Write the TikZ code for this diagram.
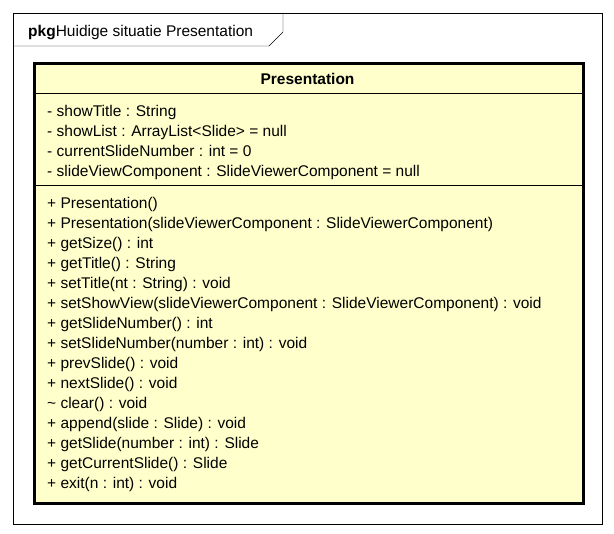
\documentclass[tikz,border=0pt]{standalone}
\usepackage{fontspec}
\setmainfont{Liberation Sans}
\usepackage{tikz}
\usetikzlibrary{positioning,calc}

\definecolor{classfill}{HTML}{FFFFCC}

\begin{document}
\begin{tikzpicture}[x=1pt,y=-1pt,
every node/.style={font=\fontsize{15.5}{18}\selectfont},
member/.style={anchor=base west,inner sep=0pt},
classbox/.style={draw,line width=3pt,fill=classfill,
  anchor=north west,inner sep=0pt}]
\useasboundingbox (0,0) rectangle (614,534);
% package frame with its tab
\draw (13,13) rectangle (602,524);
\draw (13,46) -- (269,46) -- (283,32) -- (283,13);
\node[member] (pkg) at (28,37) {\textbf{pkg}Huidige situatie Presentation};
% class
\node[classbox,minimum width=549pt,minimum height=440pt] (cls) at (33,62) {};
\node[anchor=base,inner sep=0pt] (name) at (307.5,85) {\textbf{Presentation}};
\draw (cls.west |- 0,93) -- (cls.east |- 0,93);
\draw (cls.west |- 0,185) -- (cls.east |- 0,185);
% attributes
\node[member] (a1) at (47,117) {- showTitle : String};
\node[member] (a2) at (47,137) {- showList : ArrayList<Slide> = null};
\node[member] (a3) at (47,157) {- currentSlideNumber : int = 0};
\node[member] (a4) at (47,177) {- slideViewComponent : SlideViewerComponent = null};
% operations
\node[member] (m1) at (47,209) {+ Presentation()};
\node[member] (m2) at (47,229) {+ Presentation(slideViewerComponent : SlideViewerComponent)};
\node[member] (m3) at (47,249) {+ getSize() : int};
\node[member] (m4) at (47,269) {+ getTitle() : String};
\node[member] (m5) at (47,289) {+ setTitle(nt : String) : void};
\node[member] (m6) at (47,309) {+ setShowView(slideViewerComponent : SlideViewerComponent) : void};
\node[member] (m7) at (47,329) {+ getSlideNumber() : int};
\node[member] (m8) at (47,349) {+ setSlideNumber(number : int) : void};
\node[member] (m9) at (47,369) {+ prevSlide() : void};
\node[member] (m10) at (47,389) {+ nextSlide() : void};
\node[member] (m11) at (47,409) {\~{} clear() : void};
\node[member] (m12) at (47,429) {+ append(slide : Slide) : void};
\node[member] (m13) at (47,449) {+ getSlide(number : int) : Slide};
\node[member] (m14) at (47,469) {+ getCurrentSlide() : Slide};
\node[member] (m15) at (47,489) {+ exit(n : int) : void};
\end{tikzpicture}
\end{document}
